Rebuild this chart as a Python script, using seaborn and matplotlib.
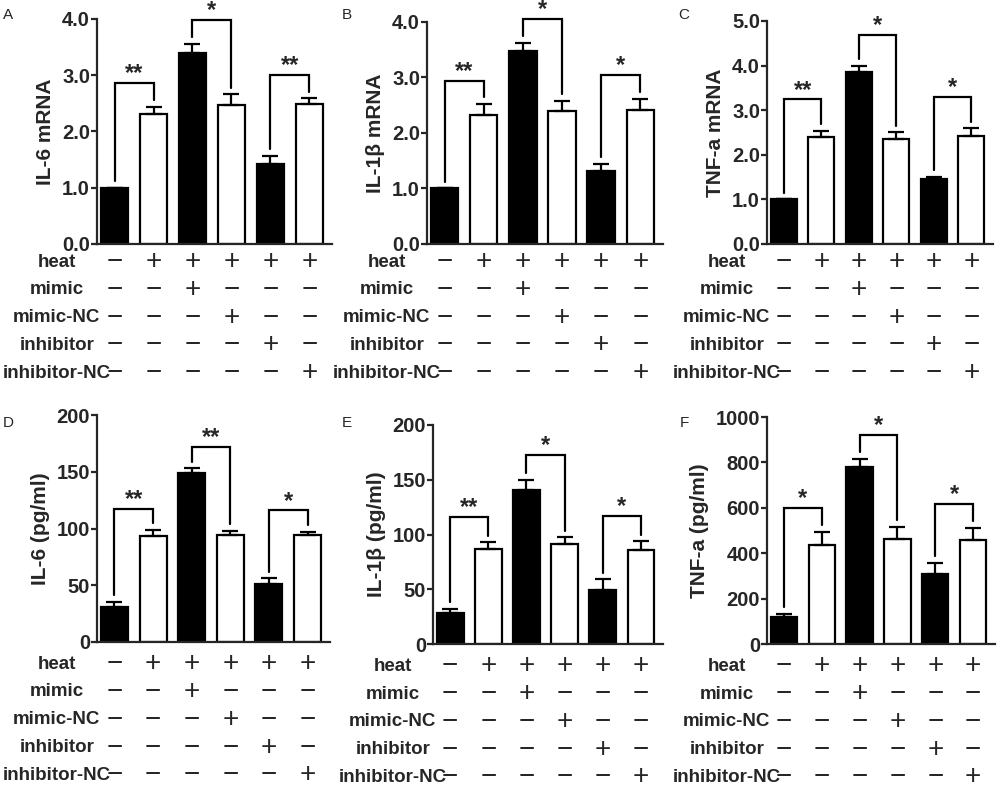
import matplotlib
matplotlib.use('Agg')
import numpy as np
import pandas as pd
import matplotlib.pyplot as plt
import seaborn as sns

# treatment groups (one bar each)
groups = ['g1', 'g2', 'g3', 'g4', 'g5', 'g6']
bar_colors = ['black', 'white', 'black', 'white', 'black', 'white']

row_names = ['heat', 'mimic', 'mimic-NC', 'inhibitor', 'inhibitor-NC']
heat = ['−', '+', '+', '+', '+', '+']
mimic = ['−', '−', '+', '−', '−', '−']
mimic_nc = ['−', '−', '−', '+', '−', '−']
inhibitor = ['−', '−', '−', '−', '+', '−']
inhibitor_nc = ['−', '−', '−', '−', '−', '+']

# qPCR
il6_mrna = [1.0, 2.31, 3.39, 2.47, 1.43, 2.49]
il6_mrna_err = [0.0, 0.13, 0.17, 0.19, 0.14, 0.10]
il1b_mrna = [1.0, 2.32, 3.48, 2.40, 1.31, 2.41]
il1b_mrna_err = [0.0, 0.20, 0.15, 0.18, 0.13, 0.21]
tnf_mrna = [1.0, 2.39, 3.86, 2.35, 1.46, 2.43]
tnf_mrna_err = [0.0, 0.15, 0.13, 0.15, 0.05, 0.16]

# ELISA
il6_elisa = [31, 93, 148.5, 94, 51, 94]
il6_elisa_err = [4, 5.5, 4.5, 4, 5, 3]
il1b_elisa = [28, 87, 141, 91, 49, 86]
il1b_elisa_err = [4, 6, 9, 6.5, 10, 8]
tnf_elisa = [117, 436, 780, 464, 309, 458]
tnf_elisa_err = [15, 59, 37, 53, 50, 54]

# significance for pairs (1,2), (3,4), (5,6)
il6_mrna_sig = ['**', '*', '**']
il1b_mrna_sig = ['**', '*', '*']
tnf_mrna_sig = ['**', '*', '*']
il6_elisa_sig = ['**', '**', '*']
il1b_elisa_sig = ['**', '*', '*']
tnf_elisa_sig = ['*', '*', '*']

table_rows = [heat, mimic, mimic_nc, inhibitor, inhibitor_nc]

sns.set_style('ticks')
plt.rcParams['font.family'] = ['Liberation Sans', 'DejaVu Sans']
plt.rcParams['font.weight'] = 'bold'
plt.rcParams['axes.linewidth'] = 1.6

fig = plt.figure(figsize=(10, 7.88), dpi=100)

panels = [
    dict(letter='A', vals=il6_mrna, err=il6_mrna_err, sig=il6_mrna_sig, ylabel='IL-6 mRNA',
         ymax=4, step=1, fmt='{:.1f}', pos=[0.097, 0.6904, 0.235, 0.2855], pad=0.105, gap=13, lx=(0.003, 0.99)),
    dict(letter='B', vals=il1b_mrna, err=il1b_mrna_err, sig=il1b_mrna_sig, ylabel='IL-1β mRNA',
         ymax=4, step=1, fmt='{:.1f}', pos=[0.427, 0.6904, 0.236, 0.2817], pad=0.105, gap=13, lx=(0.342, 0.99)),
    dict(letter='C', vals=tnf_mrna, err=tnf_mrna_err, sig=tnf_mrna_sig, ylabel='TNF-a mRNA',
         ymax=5, step=1, fmt='{:.1f}', pos=[0.767, 0.6904, 0.226, 0.283], pad=0.14, gap=13, lx=(0.678, 0.99)),
    dict(letter='D', vals=il6_elisa, err=il6_elisa_err, sig=il6_elisa_sig, ylabel='IL-6 (pg/ml)',
         ymax=200, step=50, fmt='{:.0f}', pos=[0.097, 0.1853, 0.233, 0.288], pad=0.095, gap=16, lx=(0.003, 0.472)),
    dict(letter='E', vals=il1b_elisa, err=il1b_elisa_err, sig=il1b_elisa_sig, ylabel='IL-1β (pg/ml)',
         ymax=200, step=50, fmt='{:.0f}', pos=[0.433, 0.1827, 0.230, 0.278], pad=0.115, gap=16, lx=(0.342, 0.472)),
    dict(letter='F', vals=tnf_elisa, err=tnf_elisa_err, sig=tnf_elisa_sig, ylabel='TNF-a (pg/ml)',
         ymax=1000, step=200, fmt='{:.0f}', pos=[0.767, 0.1827, 0.228, 0.288], pad=0.105, gap=16, lx=(0.680, 0.472)),
]

for p in panels:
    ax = fig.add_axes(p['pos'])
    df = pd.DataFrame({'group': groups, 'value': p['vals']})
    sns.barplot(data=df, x='group', y='value', hue='group', palette=bar_colors, legend=False,
                width=0.7, edgecolor='black', linewidth=1.6, ax=ax)
    vals = np.array(p['vals'], dtype=float)
    err = np.array(p['err'], dtype=float)
    ax.errorbar(np.arange(6), vals, yerr=[np.zeros(6), err], fmt='none', ecolor='black',
                elinewidth=1.6, capsize=6, capthick=1.6, zorder=3)

    ymax = p['ymax']
    ax.set_ylim(0, ymax)
    ax.set_xlim(-0.45, 5.58)
    ticks = np.arange(0, ymax + p['step'] / 2, p['step'])
    ax.set_yticks(ticks)
    ax.set_yticklabels([p['fmt'].format(t) for t in ticks], fontsize=14.5, fontweight='bold')
    ax.tick_params(axis='y', length=4, width=1.6, pad=1)
    ax.set_xticks([])
    ax.set_xlabel('')
    ax.set_ylabel(p['ylabel'], fontsize=15, fontweight='bold', labelpad=5)
    sns.despine(ax=ax)

    # significance brackets
    tops = vals + err
    for k, s in enumerate(p['sig']):
        i, j = 2 * k, 2 * k + 1
        top = max(tops[i], tops[j]) + p['pad'] * ymax
        yl = tops[i] + 0.03 * ymax
        yr = tops[j] + 0.03 * ymax
        ax.plot([i, i, j, j], [yl, top, top, yr], color='black', lw=1.6, clip_on=False,
                solid_joinstyle='miter')
        ax.annotate(s, xy=((i + j) / 2, top), xytext=(0, 2), textcoords='offset points',
                    ha='center', va='baseline', fontsize=17, fontweight='bold',
                    annotation_clip=False)

    # treatment table
    for r, (name, row) in enumerate(zip(row_names, table_rows)):
        dy = -p['gap'] - 20 * r
        ax.annotate(name, xy=(0, 0), xycoords='axes fraction', xytext=(-29, dy),
                    textcoords='offset points', ha='center', va='center',
                    fontsize=13.5, fontweight='bold')
        for i, sym in enumerate(row):
            ax.annotate(sym, xy=(i, 0), xycoords=('data', 'axes fraction'), xytext=(0, dy),
                        textcoords='offset points', ha='center', va='center',
                        fontsize=20, fontweight='normal')

    fig.text(p['lx'][0], p['lx'][1], p['letter'], ha='left', va='top', fontsize=11,
             fontweight='normal')

fig.savefig('out.png', dpi=100)
